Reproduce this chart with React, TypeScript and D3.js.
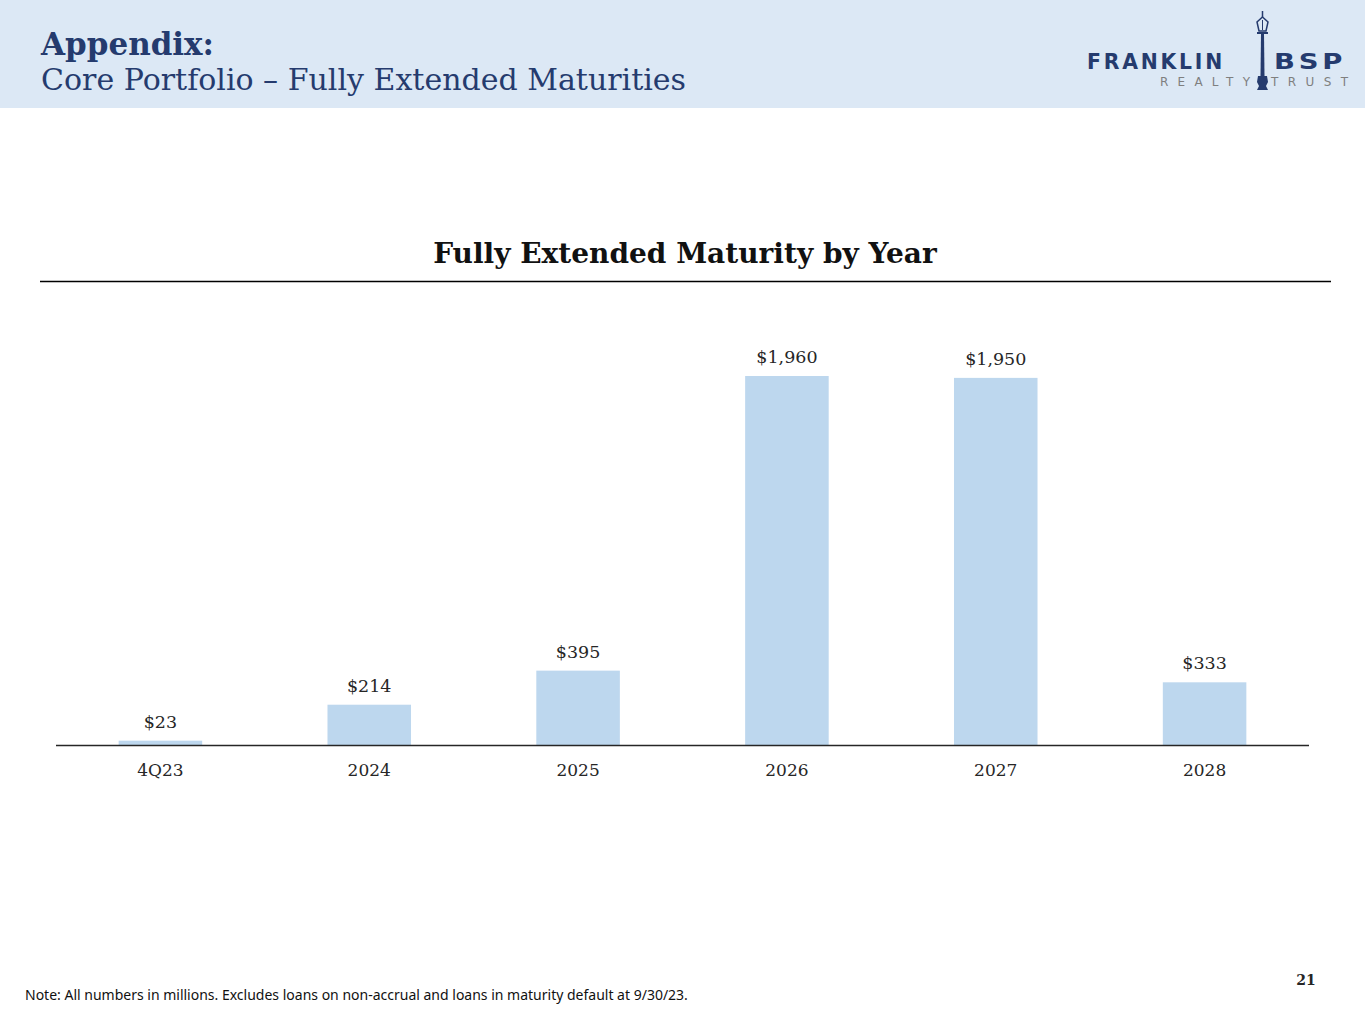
import { useMemo } from 'react';
import * as d3 from 'd3';

const categories = ['4Q23', '2024', '2025', '2026', '2027', '2028'];
const maturities = [23, 214, 395, 1960, 1950, 333];

const W = 1365;
const H = 1024;
const NAVY = '#253B6E';
const BAR = '#BDD7EE';
const SERIF = '"DejaVu Serif", Georgia, serif';
const SANS = "'DejaVu Sans', sans-serif";

const fmt = (v: number) => `$${d3.format(',')(v)}`;

function Logo() {
  return (
    <g>
      <text x={1087} y={69} fontFamily={SANS} fontWeight="bold" fontSize={22} letterSpacing={3} textLength={138} lengthAdjust="spacingAndGlyphs" fill={NAVY}>
        FRANKLIN
      </text>
      <text x={1274} y={69} fontFamily={SANS} fontWeight="bold" fontSize={22} letterSpacing={3} textLength={72} lengthAdjust="spacingAndGlyphs" fill={NAVY}>
        BSP
      </text>
      <text x={1160} y={86} fontFamily={SANS} fontSize={12} textLength={90} lengthAdjust="spacing" fill="#7f7f7f">
        REALTY
      </text>
      <text x={1271} y={86} fontFamily={SANS} fontSize={12} textLength={77} lengthAdjust="spacing" fill="#7f7f7f">
        TRUST
      </text>
      {/* lamp post */}
      <g fill={NAVY} stroke={NAVY}>
        <line x1={1262.5} y1={11} x2={1262.5} y2={17} strokeWidth={1.5} />
        <path d="M1262.5,17 L1268,22 L1266,31 L1259,31 L1257,22 Z" fill="none" strokeWidth={1.5} />
        <line x1={1262.5} y1={20} x2={1262.5} y2={30} strokeWidth={1} />
        <line x1={1257} y1={33} x2={1268} y2={33} strokeWidth={2} />
        <path d="M1261,34 L1264,34 L1264.5,76 L1260.5,76 Z" stroke="none" />
        <path d="M1258,76 L1267,76 L1268,82 L1266,86 L1268,90 L1257,90 L1259,86 L1257,82 Z" stroke="none" />
      </g>
    </g>
  );
}

export default function App() {
  const x = useMemo(
    () => d3.scaleBand<string>().domain(categories).range([56, 1309]).paddingInner(0.6).paddingOuter(0.3),
    []
  );
  const y = useMemo(() => d3.scaleLinear().domain([0, 1960]).range([745, 376]), []);

  return (
    <svg
      width={W}
      height={H}
      viewBox={`0 0 ${W} ${H}`}
      style={{ position: 'absolute', left: 0, top: 0, background: '#fff' }}
    >
      <rect x={0} y={0} width={W} height={108} fill="#DCE8F5" />
      <text x={41} y={55} fontFamily={SERIF} fontWeight="bold" fontSize={31} fill={NAVY}>
        Appendix:
      </text>
      <text x={41} y={90} fontFamily={SERIF} fontSize={30} textLength={645} lengthAdjust="spacingAndGlyphs" fill={NAVY}>
        Core Portfolio – Fully Extended Maturities
      </text>
      <Logo />

      <text x={685} y={263} textAnchor="middle" fontFamily={SERIF} fontWeight="bold" fontSize={28} fill="#111">
        Fully Extended Maturity by Year
      </text>
      <line x1={40} x2={1331} y1={281.5} y2={281.5} stroke="#000" strokeWidth={1.5} />

      {maturities.map((v, i) => {
        const cx = x(categories[i])!;
        return (
          <g key={categories[i]}>
            <rect x={cx} y={y(v)} width={x.bandwidth()} height={y(0) - y(v)} fill={BAR} />
            <text
              x={cx + x.bandwidth() / 2}
              y={y(v) - 13}
              textAnchor="middle"
              fontFamily={SERIF}
              fontSize={17.5}
              fill="#262626"
            >
              {fmt(v)}
            </text>
            <text
              x={cx + x.bandwidth() / 2}
              y={776}
              textAnchor="middle"
              fontFamily={SERIF}
              fontSize={17}
              fill="#262626"
            >
              {categories[i]}
            </text>
          </g>
        );
      })}
      <line x1={56} x2={1309} y1={y(0) + 0.5} y2={y(0) + 0.5} stroke="#262626" strokeWidth={1.5} />

      <text x={1306} y={985} textAnchor="middle" fontFamily={SERIF} fontWeight="bold" fontSize={14} fill="#262626">
        21
      </text>
      <text x={25} y={1000} fontFamily="'Liberation Sans Narrow', 'Noto Sans', sans-serif" fontSize={14} fill="#111">
        Note: All numbers in millions. Excludes loans on non-accrual and loans in maturity default at 9/30/23.
      </text>
    </svg>
  );
}
